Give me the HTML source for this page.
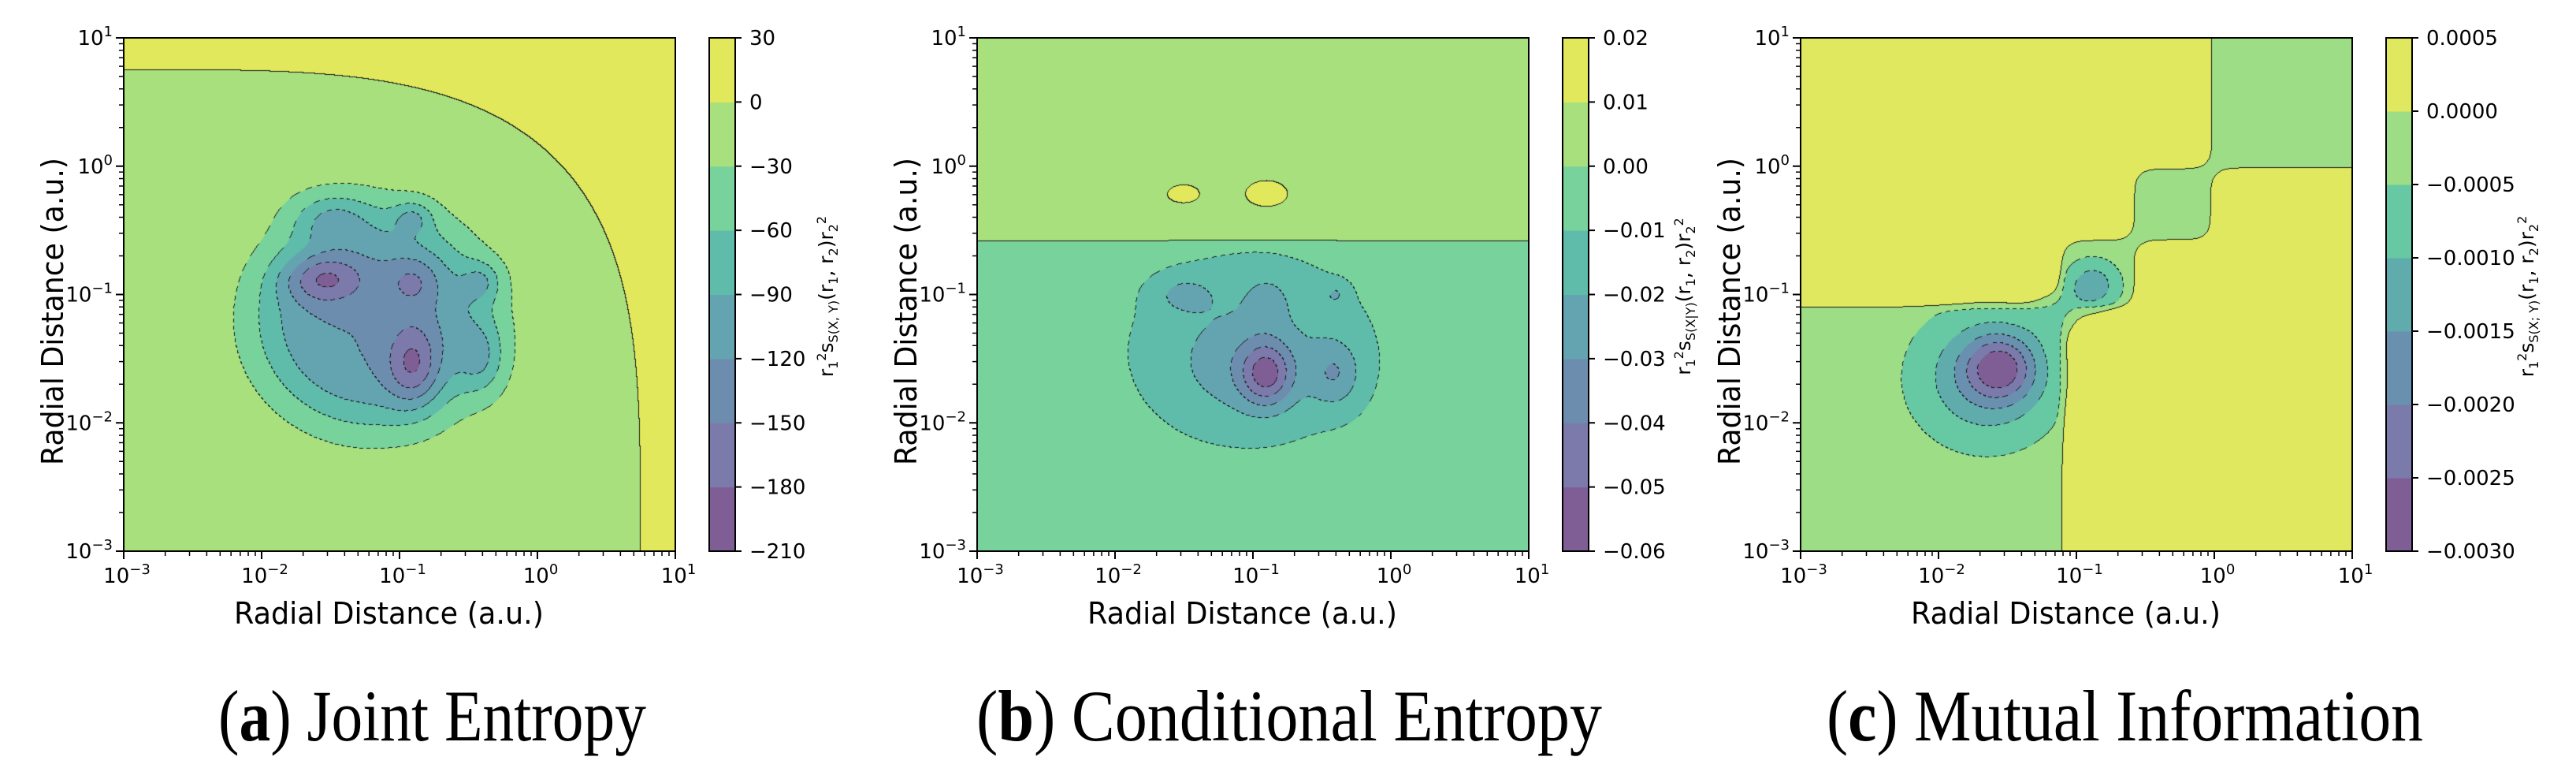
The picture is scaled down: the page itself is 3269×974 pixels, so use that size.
<!DOCTYPE html>
<html><head><meta charset="utf-8">
<style>
html,body{margin:0;padding:0;background:#fff;}
#root{position:relative;width:3269px;height:974px;overflow:hidden;background:#fff;}
canvas{position:absolute;}
svg{position:absolute;left:0;top:0;}
.cbl{position:absolute;font-family:"DejaVu Sans","Liberation Sans",sans-serif;font-size:25px;color:#000;white-space:nowrap;transform:translate(-50%,-50%) rotate(-90deg);}
.cbl sub,.cbl sup{font-size:16px;}
</style></head>
<body>
<div id="root">
<canvas id="cv0" width="700" height="651" style="left:157px;top:48px"></canvas>
<canvas id="cv1" width="700" height="651" style="left:1240px;top:48px"></canvas>
<canvas id="cv2" width="700" height="651" style="left:2285px;top:48px"></canvas>
<svg id="ov" width="3269" height="974"></svg>
<div class="cbl" style="left:1050px;top:376px">r<sub>1</sub><sup>2</sup>s<sub>S(X, Y)</sub>(r<sub>1</sub>, r<sub>2</sub>)r<sub>2</sub><sup>2</sup></div>
<div class="cbl" style="left:2138px;top:376px">r<sub>1</sub><sup>2</sup>s<sub>S(X|Y)</sub>(r<sub>1</sub>, r<sub>2</sub>)r<sub>2</sub><sup>2</sup></div>
<div class="cbl" style="left:3208px;top:376px">r<sub>1</sub><sup>2</sup>s<sub>S(X; Y)</sub>(r<sub>1</sub>, r<sub>2</sub>)r<sub>2</sub><sup>2</sup></div>
</div>
<script>
// ---- data ----
const decadeExps = [-3,-2,-1,0,1];
const aLevels = [-210,-180,-150,-120,-90,-60,-30,0,30];
const aTickLabels = ["−210","−180","−150","−120","−90","−60","−30","0","30"];
const aBlobU = [-1.55,-0.9,-0.9,-1.5,-0.9,-0.4,-0.4,-1.2];
const aBlobV = [-0.88,-1.55,-0.9,-0.4,-0.4,-0.9,-1.5,-1.2];
const aBlobAmp = [-75,-75,-42,-50,-48,-48,-50,-105];
const aBlobSx = [0.2,0.13,0.13,0.2,0.1,0.1,0.12,0.6];
const aBlobSy = [0.13,0.22,0.13,0.14,0.09,0.11,0.2,0.6];
const aBlobPow = [1,1,1,1,1,1,1,2];
const bLevels = [-0.06,-0.05,-0.04,-0.03,-0.02,-0.01,0,0.01,0.02];
const bTickLabels = ["−0.06","−0.05","−0.04","−0.03","−0.02","−0.01","0.00","0.01","0.02"];
const bBlobU = [-0.9,-1.5,-0.9,-0.4,-0.4,-1.0,-1.5,-0.9,-1.1];
const bBlobV = [-1.62,-1.0,-1.05,-1.62,-1.0,-1.4,-0.22,-0.22,-1.6];
const bBlobAmp = [-0.033,-0.012,-0.011,-0.017,-0.01,-0.014,0.011,0.013,-0.008];
const bBlobSx = [0.13,0.15,0.1,0.13,0.06,0.6,0.1,0.12,0.35];
const bBlobSy = [0.17,0.1,0.12,0.18,0.06,0.5,0.06,0.08,0.3];
const bBlobPow = [1,1,1,1,1,1,1,1,1];
const cLevels = [-0.003,-0.0025,-0.002,-0.0015,-0.001,-0.0005,0,0.0005];
const cTickLabels = ["−0.0030","−0.0025","−0.0020","−0.0015","−0.0010","−0.0005","0.0000","0.0005"];
const cSteps = [-1.1,-0.58,-0.02];
const cBlobU = [-1.55,-1.65,-0.88,-1.15];
const cBlobV = [-1.57,-1.65,-0.93,-1.15];
const cBlobAmp = [-0.0016,-0.0013,-0.0011,-0.0004];
const cBlobSx = [0.17,0.34,0.13,0.13];
const cBlobSy = [0.17,0.34,0.13,0.13];
const cBlobPow = [1,1,1,1];
const titleBold = ["a","b","c"];
const titleText = [" Joint Entropy"," Conditional Entropy"," Mutual Information"];

const colors8 = ["#7f5e96","#7b7aab","#6d8daf","#64a4b1","#5fbbaa","#78d29b","#a8e07e","#e2e85c"];
const colors7 = ["#7f5e96","#7a7aab","#6a90b0","#60acad","#66c9a3","#9ddd86","#dfe85e"];

const PX0 = [157,1240,2285], PW = 700, PY0 = 48, PH = 651;
function xs(i,u){return PX0[i]+(u+3)/4*PW;}
function ys(v){return PY0+(1-v)/4*PH;}
function sig(z){return 1/(1+Math.exp(-z));}
function blobs(U,V,A,SX,SY,P,u,v){let f=0;for(let k=0;k<U.length;k++){const du=u-U[k],dv=v-V[k];const q=du*du/(2*SX[k]*SX[k])+dv*dv/(2*SY[k]*SY[k]);f+=A[k]*Math.exp(-Math.pow(q,P[k]));}return f;}
function fa(u,v){const n=Math.pow(Math.pow(u+3,3.6)+Math.pow(v+3,3.6),1/3.6);return -15+30*sig((n-3.75)/0.01)+blobs(aBlobU,aBlobV,aBlobAmp,aBlobSx,aBlobSy,aBlobPow,u,v);}
function fb(u,v){return -0.005+0.01*sig((v+0.585)/0.003)+blobs(bBlobU,bBlobV,bBlobAmp,bBlobSx,bBlobSy,bBlobPow,u,v);}
function H(u){let h=0;for(const s of cSteps)h+=sig((u-s)/0.04);return h;}
function fc(u,v){const d=Math.abs(H(u)-H(v));return -0.00025+0.0006*sig((d-0.5)/0.08)+blobs(cBlobU,cBlobV,cBlobAmp,cBlobSx,cBlobSy,cBlobPow,u,v);}
const FN=[fa,fb,fc], LV=[aLevels,bLevels,cLevels], CL=[colors8,colors8,colors7], TL=[aTickLabels,bTickLabels,cTickLabels];

function hex(c){return [parseInt(c.slice(1,3),16),parseInt(c.slice(3,5),16),parseInt(c.slice(5,7),16)];}
for(let p=0;p<3;p++){
  const cv=document.getElementById('cv'+p),ctx=cv.getContext('2d');
  const img=ctx.createImageData(PW,PH),lv=LV[p],cols=CL[p].map(hex),nb=lv.length-1;
  const B=new Int8Array(PW*PH);
  for(let y=0;y<PH;y++){const v=1-4*(y+0.5)/PH;for(let x=0;x<PW;x++){const u=-3+4*(x+0.5)/PW;const f=FN[p](u,v);let b=0;while(b<nb-1&&f>=lv[b+1])b++;B[y*PW+x]=b;}}
  for(let y=0;y<PH;y++)for(let x=0;x<PW;x++){
    const i=y*PW+x,b=B[i];let c=cols[b];
    let edge=-1;
    if(x<PW-1&&B[i+1]!==b)edge=Math.max(b,B[i+1]);
    if(y<PH-1&&B[i+PW]!==b)edge=Math.max(edge,Math.max(b,B[i+PW]));
    if(edge>=0){const level=lv[edge];const dashed=level<0;if(!dashed||((x+y)%9)<5)c=[25,25,25];}
    img.data[i*4]=c[0];img.data[i*4+1]=c[1];img.data[i*4+2]=c[2];img.data[i*4+3]=255;
  }
  ctx.putImageData(img,0,0);
}

const NS="http://www.w3.org/2000/svg",ov=document.getElementById('ov');
function mk(tag,attrs,parent){const e=document.createElementNS(NS,tag);for(const k in attrs)e.setAttribute(k,attrs[k]);(parent||ov).appendChild(e);return e;}
const FONT='"DejaVu Sans","Liberation Sans",sans-serif';
for(let p=0;p<3;p++){
  const g=mk('g',{});
  
  
  const fr=mk('rect',{x:PX0[p],y:PY0,width:PW,height:PH,fill:'none',stroke:'#000','stroke-width':2},g);
  
  
  for(const e of decadeExps){
    const X=xs(p,e), Y=ys(e);
    mk('line',{x1:X,y1:PY0+PH,x2:X,y2:PY0+PH+10,stroke:'#000','stroke-width':2},g);
    mk('line',{x1:PX0[p],y1:Y,x2:PX0[p]-10,y2:Y,stroke:'#000','stroke-width':2},g);
    const tx=mk('text',{x:X+4,y:PY0+PH+40,'font-family':FONT,'font-size':26,'text-anchor':'middle'},g);
    
    
    tx.innerHTML='10<tspan dy="-11" font-size="18">'+(e<0?'−'+(-e):e)+'</tspan>';
    const ty=mk('text',{x:PX0[p]-14,y:Y+9,'font-family':FONT,'font-size':26,'text-anchor':'end'},g);
    
    
    ty.innerHTML='10<tspan dy="-11" font-size="18">'+(e<0?'−'+(-e):e)+'</tspan>';
    if(e<1){for(let m=2;m<10;m++){const l=e+Math.log10(m);
      mk('line',{x1:xs(p,l),y1:PY0+PH,x2:xs(p,l),y2:PY0+PH+6,stroke:'#000','stroke-width':1.5},g);
      mk('line',{x1:PX0[p],y1:ys(l),x2:PX0[p]-6,y2:ys(l),stroke:'#000','stroke-width':1.5},g);}}
  }
  const xl=mk('text',{x:PX0[p]+140,y:791,'font-family':FONT,'font-size':38,textLength:393,lengthAdjust:'spacingAndGlyphs'},g);
  xl.textContent='Radial Distance (a.u.)';
  
  
  const ylx=PX0[p]-90;
  const yl=mk('text',{x:0,y:0,'font-family':FONT,'font-size':38,textLength:390,lengthAdjust:'spacingAndGlyphs','text-anchor':'middle',transform:'translate('+(ylx+13)+',395) rotate(-90)'},g);
  yl.textContent='Radial Distance (a.u.)';
  
  
  const cbx=PX0[p]+PW+43, lv=LV[p], nb=lv.length-1, bh=PH/nb;
  for(let b=0;b<nb;b++){
    const r=mk('rect',{x:cbx,y:PY0+PH-(b+1)*bh,width:33,height:bh+0.5,fill:CL[p][b]},g);
    
    
  }
  mk('rect',{x:cbx,y:PY0,width:33,height:PH,fill:'none',stroke:'#000','stroke-width':2},g);
  for(let k=0;k<lv.length;k++){
    const Y=PY0+PH-k*bh;
    mk('line',{x1:cbx+33,y1:Y,x2:cbx+41,y2:Y,stroke:'#000','stroke-width':2},g);
    const t=mk('text',{x:cbx+51,y:Y+9,'font-family':FONT,'font-size':26},g);
    t.textContent=TL[p][k];
    
    
  }
}
const TX=[[277,543],[1239,794],[2318,757]];
for(let p=0;p<3;p++){
  const t=mk('text',{x:TX[p][0],y:939,'font-family':'"Liberation Serif",serif','font-size':92,textLength:TX[p][1],lengthAdjust:'spacingAndGlyphs'});
  t.innerHTML='(<tspan font-weight="bold">'+titleBold[p]+'</tspan>)'+titleText[p];
  
  
}
</script>
</body></html>
